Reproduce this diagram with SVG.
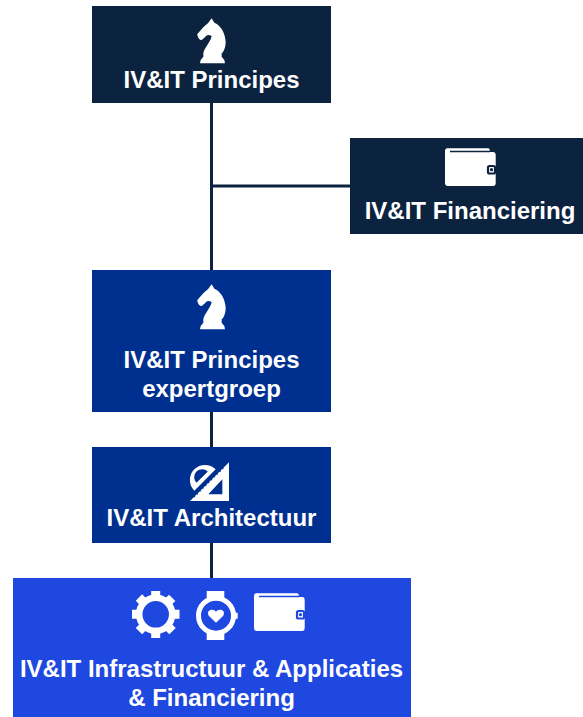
<svg xmlns="http://www.w3.org/2000/svg" width="583" height="717" viewBox="0 0 583 717">
<style>
.t{font-family:"Liberation Sans",Arial,sans-serif;font-weight:700;font-size:24px;fill:#fff;text-anchor:middle}
.c{fill:none;stroke:#0c2340;stroke-width:3}
.w{fill:#fff}
</style>
<defs>
<path id="knight" transform="translate(180 10) scale(.33333)" d="M85 38L95 25L103 38C120 45 135 65 137 95C137 110 132 125 125 130L125 140L133 150L135 160L60 160L62 150L70 140L70 130C72 115 92 95 95 78C85 73 80 75 75 82L65 90C58 90 52 82 52 72L70 52C75 46 82 42 85 38Z"/>
<g id="wallet">
<path class="w" d="M447 148.300H488Q490 148.300 490 152H493Q495.700 152 495.700 155V183Q495.700 186 493 186H448Q445 186 445 183V151Q445 148.300 447 148.300Z"/>
<path d="M450 151.500H490" stroke="currentColor" stroke-width="1.400" fill="none"/>
<rect x="488" y="166" width="7" height="7.500" rx="1.500" fill="#fff" stroke-width="2.200" stroke="currentColor"/>
<circle cx="491.500" cy="169.700" r="1.600" fill="currentColor"/>
</g>
</defs>
<g id="connectors">
<path class="c" d="M211.500 103V578M211.500 186H350"/>
</g>
<g id="node-principes">
<rect x="92" y="6" width="239" height="97" fill="#0c2340"/>
<use href="#knight" class="w"/>
<text class="t" x="211.500" y="88">IV&amp;IT Principes</text>
</g>
<g id="node-financiering">
<rect x="350" y="138" width="233" height="96" fill="#0c2340"/>
<use href="#wallet" color="#0c2340"/>
<text class="t" x="470" y="219">IV&amp;IT Financiering</text>
</g>
<g id="node-expertgroep">
<rect x="92" y="270" width="239" height="142" fill="#00308f"/>
<use href="#knight" y="266" class="w"/>
<text class="t" x="211.500" y="368">IV&amp;IT Principes</text>
<text class="t" x="211.500" y="397">expertgroep</text>
</g>
<g id="node-architectuur">
<rect x="92" y="447" width="239" height="96" fill="#00308f"/>
<g transform="translate(180 455) scale(.33333)">
<path class="w" fill-rule="evenodd" d="M30 138L147 22V138ZM85 118H127V73Z"/>
<path class="w" fill-rule="evenodd" d="M107 43A45 45 0 0 0 43 107ZM83.500 49.500A24 24 0 0 0 49.500 83.500Z"/>
<path d="M42 126L135 34" stroke="#00308f" stroke-width="4" stroke-dasharray="4 8" fill="none"/>
</g>
<text class="t" x="211.500" y="526">IV&amp;IT Architectuur</text>
</g>
<g id="node-infra">
<rect x="13" y="578" width="398" height="139" fill="#1f48e0"/>
<g id="gear">
<circle cx="155.700" cy="614.300" r="16.500" fill="none" stroke="#fff" stroke-width="6.500"/>
<path id="teeth" class="w" d="M151.200 591H160.200V599H151.200ZM151.200 630H160.200V638H151.200ZM132 609.800H140V618.800H132ZM171.500 609.800H179.500V618.800H171.500Z"/>
<use href="#teeth" transform="rotate(45 155.700 614.300)"/>
</g>
<g id="watch">
<circle cx="216" cy="615.700" r="17.500" fill="none" stroke="#fff" stroke-width="5"/>
<path class="w" d="M206.700 591H224.300V598H206.700ZM206.700 633H224.300V640H206.700ZM235 612.700H237.700V618.700H235Z"/>
<path class="w" d="M216 622.800L209 616C206.500 612.500 209 609.800 212 609.800C213.800 609.800 215.200 610.500 216 611.800C216.800 610.500 218.200 609.800 220 609.800C223 609.800 225.500 612.500 223 616Z"/>
</g>
<use href="#wallet" x="-191" y="445" color="#1f48e0"/>
<text class="t" x="211.500" y="677">IV&amp;IT Infrastructuur &amp; Applicaties</text>
<text class="t" x="211.500" y="706">&amp; Financiering</text>
</g>
</svg>
